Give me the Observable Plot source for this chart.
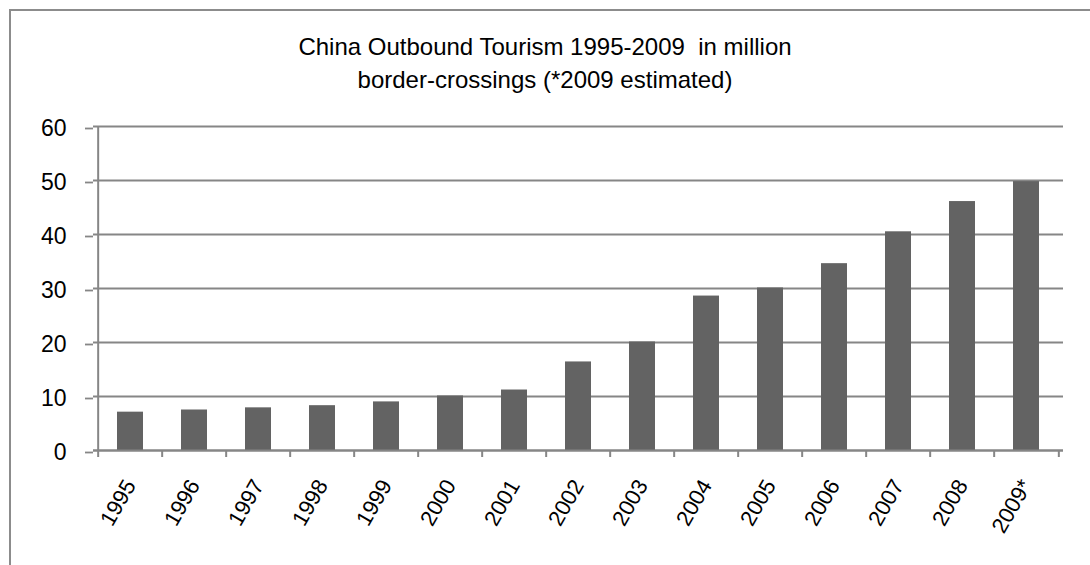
<!DOCTYPE html>
<html>
<head>
<meta charset="utf-8">
<script src="https://cdn.jsdelivr.net/npm/d3@7"></script>
<script src="https://cdn.jsdelivr.net/npm/@observablehq/plot@0.6"></script>
<style>
  html, body { margin: 0; padding: 0; background: #fff; overflow: hidden; width: 1090px; height: 565px; }
  #title { position: absolute; left: 0; top: 30px; width: 1090px; text-align: center;
           font-family: "Liberation Sans", Arial, sans-serif; font-size: 24px; line-height: 33px;
           color: #000; white-space: pre; }
  #chart { position: absolute; left: 0; top: 100px; }
  #frame { position: absolute; left: 9px; top: 9px; width: 1200px; height: 700px;
           border-top: 2px solid #8c8c8c; border-left: 2px solid #8c8c8c; }
</style>
</head>
<body>
<div id="title">China Outbound Tourism 1995-2009  in million
border-crossings (*2009 estimated)</div>
<div id="chart"></div>
<div id="frame"></div>
<script>
// Data
const years = ["1995", "1996", "1997", "1998", "1999", "2000", "2001", "2002",
               "2003", "2004", "2005", "2006", "2007", "2008", "2009*"];
const values = [7.1, 7.5, 7.9, 8.3, 9.0, 10.1, 11.2, 16.4,
                20.1, 28.6, 30.1, 34.6, 40.5, 46.1, 49.8];
const yTicks = [0, 10, 20, 30, 40, 50, 60];

const data = years.map((year, i) => ({year, value: values[i]}));

const W = 1090, H = 465;
const mL = 93, mR = 27, mT = 26, mB = 115;
const step = (W - mL - mR) / years.length;
const gridColor = "#868686";
const font = '"Liberation Sans", Arial, sans-serif';

const chart = Plot.plot({
  width: W,
  height: H,
  marginLeft: mL,
  marginRight: mR,
  marginTop: mT,
  marginBottom: mB,
  style: {fontFamily: font, background: "transparent", color: "#000", overflow: "visible"},
  x: {domain: years, paddingInner: 0.6, paddingOuter: 0.3},
  y: {domain: [0, 60]},
  marks: [
    Plot.ruleY(yTicks, {stroke: gridColor, strokeWidth: 1.8}),
    Plot.barY(data, {x: "year", y: "value", fill: "#636363"}),
    Plot.ruleY([0], {stroke: gridColor, strokeWidth: 2}),
    // left axis line
    Plot.ruleX([years[0]], {x: d => d, y1: 0, y2: 60, dx: -step / 2, stroke: gridColor, strokeWidth: 2}),
    // category boundary ticks
    Plot.ruleX(years, {x: d => d, y1: 0, y2: 0, insetBottom: -7, dx: -step / 2, stroke: gridColor, strokeWidth: 2}),
    Plot.ruleX([years[years.length - 1]], {x: d => d, y1: 0, y2: 0, insetBottom: -7, dx: step / 2, stroke: gridColor, strokeWidth: 2}),
    Plot.axisY({ticks: yTicks, tickSize: 8, tickPadding: 19, stroke: gridColor, strokeWidth: 1.8,
                fill: "#000", fontSize: 23, label: null, dy: 2}),
    Plot.axisX({tickSize: 0, tickPadding: 31, tickRotate: -60, fill: "#000", fontSize: 22, label: null})
  ]
});
document.getElementById("chart").appendChild(chart);
</script>
</body>
</html>
